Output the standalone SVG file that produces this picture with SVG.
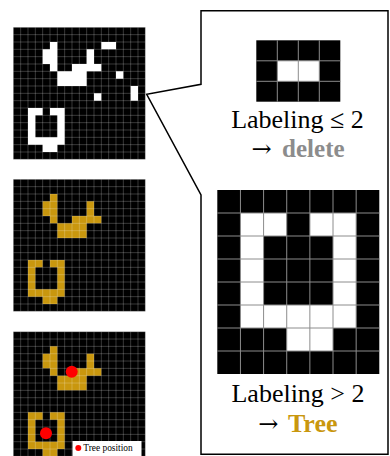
<svg xmlns="http://www.w3.org/2000/svg" xmlns:xlink="http://www.w3.org/1999/xlink" width="390" height="456" viewBox="0 0 390 456">
<style>
.lbl{font-family:"Liberation Serif","Times New Roman",serif;font-size:26px;fill:#000}
.arr{font-family:"DejaVu Serif",serif;font-size:24px}
.gl{fill:none;stroke:#fff;stroke-opacity:0.28;stroke-width:0.8}
.gr{fill:none;stroke:#8c8c8c;stroke-width:1}
.gold{fill:#c9970e}
</style>
<defs>
<path id="lines" vector-effect="non-scaling-stroke" d="M0,0V18M1,0V18M2,0V18M3,0V18M4,0V18M5,0V18M6,0V18M7,0V18M8,0V18M9,0V18M10,0V18M11,0V18M12,0V18M13,0V18M14,0V18M15,0V18M16,0V18M17,0V18M18,0V18M0,0H18M0,1H18M0,2H18M0,3H18M0,4H18M0,5H18M0,6H18M0,7H18M0,8H18M0,9H18M0,10H18M0,11H18M0,12H18M0,13H18M0,14H18M0,15H18M0,16H18M0,17H18M0,18H18"/>
<path id="shapes" d="M5,2h1v1h-1zM4,3h2v2h-2zM5,5h1v1h-1zM8,5h4v1h-4zM10,3h1v2h-1zM6,6h4v2h-4zM2,11h2v1h-2zM5,11h2v1h-2zM2,12h1v3h-1zM6,12h1v3h-1zM2,15h5v1h-5zM4,16h2v1h-2z"/>
<path id="noise" d="M12,2h2v1h-2zM14,6h1v1h-1zM11,9h1v1h-1zM16,8h1v2h-1z"/>
</defs>
<g id="connectors">
<polygon points="201,10.7 388,10.7 388,454.3 201,454.3 201,195 146.7,94.3 201,84.3" fill="#fff" stroke="#000" stroke-width="1.5" stroke-linejoin="miter"/>
</g>
<g id="grid-original" transform="translate(13.33,27.33) scale(7.3333)">
<rect width="18" height="18" fill="#000"/>
<use xlink:href="#shapes" fill="#fff"/>
<use xlink:href="#noise" fill="#fff"/>
<use xlink:href="#lines" class="gl"/>
</g>
<g id="grid-filtered" transform="translate(13.33,179.33) scale(7.3333)">
<rect width="18" height="18" fill="#000"/>
<use xlink:href="#shapes" class="gold"/>
<use xlink:href="#lines" class="gl"/>
</g>
<g id="grid-trees">
<g transform="translate(13.33,331.7) scale(7.3333)">
<rect width="18" height="18" fill="#000"/>
<use xlink:href="#shapes" class="gold"/>
<use xlink:href="#lines" class="gl"/>
</g>
<circle cx="71.7" cy="371.7" r="6" fill="#f00"/>
<circle cx="46" cy="433.3" r="6" fill="#f00"/>
<rect x="72.5" y="441" width="69" height="16" fill="#fff"/>
<circle cx="78.3" cy="448" r="3" fill="#f00"/>
<text x="83.3" y="451" font-family="Liberation Serif, serif" font-size="9.4" fill="#000">Tree position</text>
</g>
<g id="delete-example">
<rect x="256.3" y="40.3" width="84" height="61.4" fill="#000"/>
<rect x="277.3" y="60.8" width="42" height="20.5" fill="#fff"/>
<path class="gr" d="M277.3,40.3V101.7M298.3,40.3V101.7M319.3,40.3V101.7M256.3,60.8H340.3M256.3,81.3H340.3"/>
<text class="lbl" x="297.5" y="128.3" text-anchor="middle">Labeling ≤ 2</text>
<text class="lbl" x="251.5" y="156.7"><tspan class="arr">→</tspan> <tspan dx="4" font-weight="bold" fill="#8c8c8c" font-size="25">delete</tspan></text>
</g>
<g id="tree-example">
<g transform="translate(217.3,190) scale(23.143,23)">
<rect width="7" height="8" fill="#000"/>
<path fill="#fff" d="M1,1h2v1h-2zM4,1h2v1h-2zM1,2h1v3h-1zM5,2h1v3h-1zM1,5h5v1h-5zM3,6h2v1h-2z"/>
<path class="gr" vector-effect="non-scaling-stroke" d="M1,0V8M2,0V8M3,0V8M4,0V8M5,0V8M6,0V8M0,1H7M0,2H7M0,3H7M0,4H7M0,5H7M0,6H7M0,7H7"/>
</g>
<text class="lbl" x="298" y="401.7" text-anchor="middle">Labeling &gt; 2</text>
<text class="lbl" x="258.3" y="431.7"><tspan class="arr">→</tspan> <tspan dx="3" font-weight="bold" class="gold">Tree</tspan></text>
</g>
</svg>
